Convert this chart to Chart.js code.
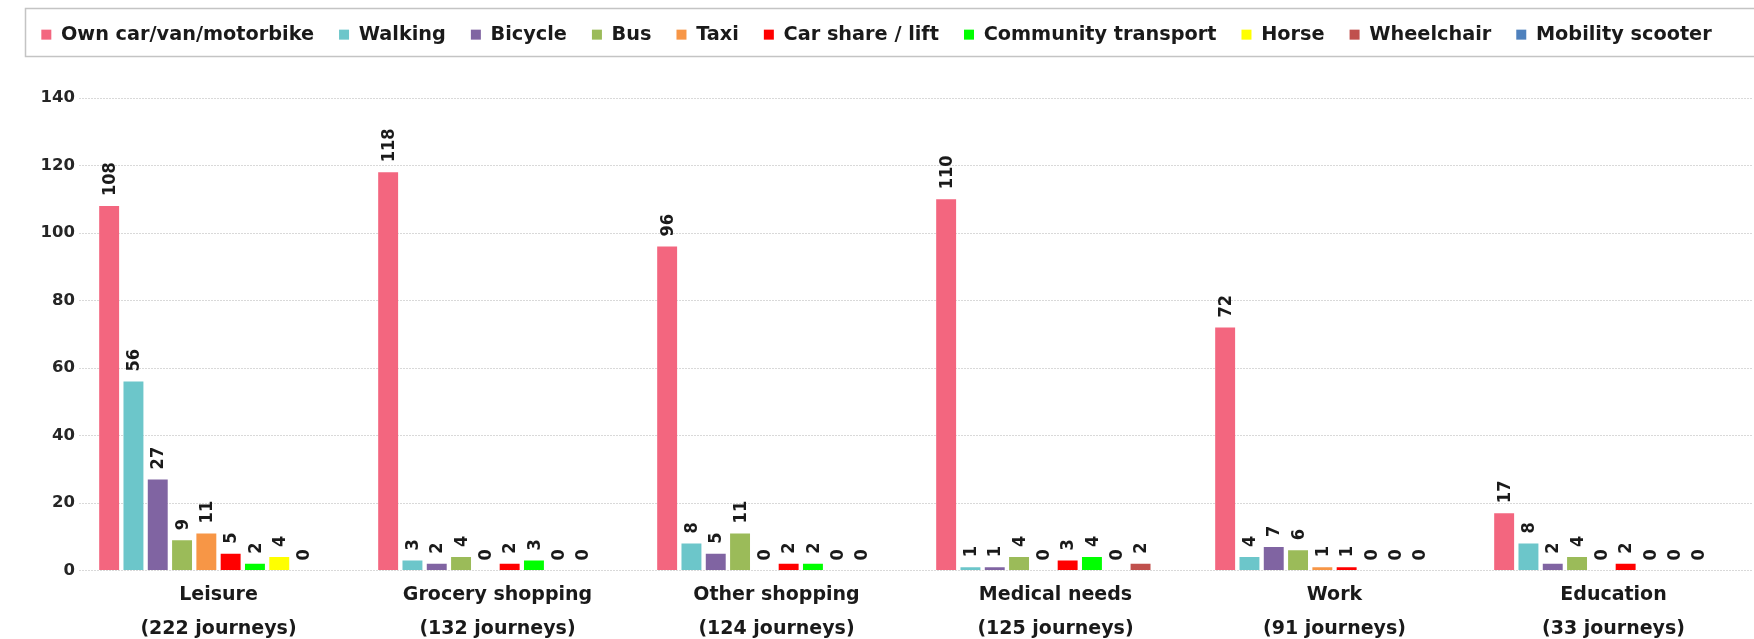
<!DOCTYPE html>
<html>
<head>
<meta charset="utf-8">
<script src="https://cdn.jsdelivr.net/npm/chart.js@4.4.1/dist/chart.umd.min.js"></script>
<style>
    html, body { margin: 0; padding: 0; background: #fff; }
    #wrap { width: 1754px; height: 639px; position: relative; }
</style>
</head>
<body>
<div id="wrap"><canvas id="modeChart"></canvas></div>
<script>
const categories = ["Leisure", "Grocery shopping", "Other shopping", "Medical needs", "Work", "Education"];
const journeys = [222, 132, 124, 125, 91, 33];

const seriesNames = ["Own car/van/motorbike", "Walking", "Bicycle", "Bus", "Taxi", "Car share / lift",
    "Community transport", "Horse", "Wheelchair", "Mobility scooter"];
const seriesColors = ["#F3667F", "#6CC6CA", "#8064A2", "#9BBB59", "#F79646", "#FF0000",
    "#00FF00", "#FFFF00", "#C0504D", "#4F81BD"];

// one array per mode of transport, in category order
const ownCar = [108, 118, 96, 110, 72, 17];
const walking = [56, 3, 8, 1, 4, 8];
const bicycle = [27, 2, 5, 1, 7, 2];
const bus = [9, 4, 11, 4, 6, 4];
const taxi = [11, 0, 0, 0, 1, 0];
const carShare = [5, 2, 2, 3, 1, 2];
const community = [2, 3, 2, 4, 0, 0];
const horse = [4, 0, 0, 0, 0, 0];
const wheelchair = [0, 0, 0, 2, 0, 0];
const mobilityScooter = [null, null, null, null, null, null];

const seriesValues = [ownCar, walking, bicycle, bus, taxi, carShare, community, horse, wheelchair, mobilityScooter];

const yTicks = { min: 0, max: 140, step: 20 };

// draws the rotated value above each bar
const valueLabels = {
    id: "valueLabels",
    afterDatasetsDraw(chart) {
        const ctx = chart.ctx;
        ctx.save();
        ctx.font = "bold 18px 'Liberation Sans Narrow', 'DejaVu Sans Condensed'";
        ctx.fillStyle = "#1a1a1a";
        ctx.textAlign = "left";
        ctx.textBaseline = "middle";
        chart.data.datasets.forEach((ds, i) => {
            const meta = chart.getDatasetMeta(i);
            meta.data.forEach((bar, j) => {
                const v = ds.data[j];
                if (v === null || v === undefined) return;
                ctx.save();
                ctx.translate(bar.x + 1, bar.y - 10);
                ctx.rotate(-Math.PI / 2);
                ctx.fillText(String(v), 0, 0);
                ctx.restore();
            });
        });
        ctx.restore();
    }
};

// grey frame round the legend, and fixed legend height
const legendFrame = {
    id: "legendFrame",
    beforeInit(chart) {
        const fit = chart.legend.fit;
        chart.legend.fit = function () {
            fit.call(this);
            this.height = 98;
        };
    },
    afterDraw(chart) {
        const ctx = chart.ctx;
        ctx.save();
        ctx.strokeStyle = "#c4c4c4";
        ctx.lineWidth = 1.5;
        ctx.strokeRect(25.5, 8.5, 1760, 48);
        ctx.restore();
    }
};

function buildDatasets() {
    return seriesNames.map((name, i) => ({
        label: name,
        data: seriesValues[i],
        backgroundColor: seriesColors[i],
        borderWidth: 0,
        categoryPercentage: 0.871,
        barPercentage: 0.82
    }));
}

function createChart() {
    new Chart(document.getElementById("modeChart"), {
        type: "bar",
        data: {
            labels: categories.map((c, i) => [c, "(" + journeys[i] + " journeys)"]),
            datasets: buildDatasets()
        },
        options: {
            responsive: true,
            maintainAspectRatio: false,
            animation: false,
            layout: { padding: { top: 0, right: 1, bottom: 0, left: 0 } },
            plugins: {
                legend: {
                    position: "top",
                    labels: {
                        boxWidth: 10,
                        boxHeight: 10,
                        padding: 25,
                        color: "#1a1a1a",
                        font: { family: "'DejaVu Sans'", size: 19.3, weight: "bold" }
                    }
                },
                tooltip: { enabled: false }
            },
            scales: {
                x: {
                    grid: { display: false, drawTicks: false },
                    border: { display: false },
                    ticks: {
                        padding: 8,
                        maxRotation: 0,
                        color: "#1a1a1a",
                        font: { family: "'DejaVu Sans'", size: 19, weight: "bold", lineHeight: 1.76 }
                    },
                    afterFit(scale) { scale.height = 68.5; }
                },
                y: {
                    min: yTicks.min,
                    max: yTicks.max,
                    grid: { color: "#d9d9d9", drawTicks: false },
                    border: { display: false, dash: [2, 1] },
                    ticks: {
                        stepSize: yTicks.step,
                        padding: 4,
                        color: "#262626",
                        font: { family: "'DejaVu Sans'", size: 16.5, weight: "bold" }
                    },
                    afterFit(scale) { scale.width = 79; }
                }
            }
        },
        plugins: [valueLabels, legendFrame]
    });
}

document.addEventListener("DOMContentLoaded", createChart);
</script>
</body>
</html>
